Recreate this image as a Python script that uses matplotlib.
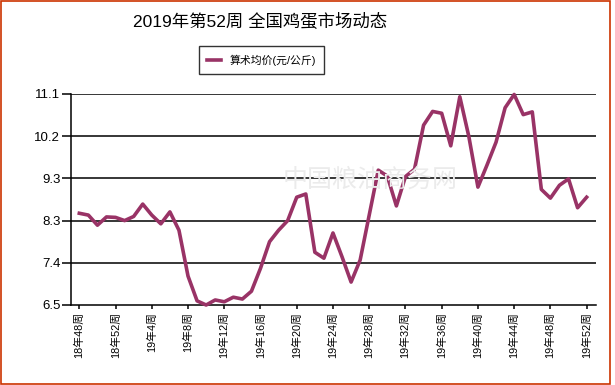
import matplotlib
matplotlib.use("Agg")
import matplotlib.pyplot as plt
import numpy as np
from matplotlib.patches import Rectangle

plt.rcParams['font.family'] = ['Liberation Sans', 'Noto Sans CJK SC', 'DejaVu Sans']

title = "2019年第52周 全国鸡蛋市场动态"
series_name = "算术均价(元/公斤)"

# weekly prices, 18W48 .. 19W52 (57 weeks)
prices = [8.50, 8.46, 8.24, 8.42, 8.41, 8.34, 8.43, 8.70, 8.46, 8.27,
          8.53, 8.13, 7.13, 6.59, 6.50, 6.61, 6.57, 6.67, 6.63, 6.80,
          7.30, 7.88, 8.13, 8.34, 8.85, 8.92, 7.65, 7.52, 8.07, 7.55,
          7.00, 7.48, 8.46, 9.44, 9.31, 8.66, 9.30, 9.46, 10.42, 10.72,
          10.68, 9.97, 11.04, 10.17, 9.07, 9.55, 10.05, 10.80, 11.09, 10.65,
          10.71, 9.02, 8.83, 9.11, 9.25, 8.62, 8.85]

xtick_labels = ["18年48周", "18年52周", "19年4周", "19年8周", "19年12周",
                "19年16周", "19年20周", "19年24周", "19年28周", "19年32周",
                "19年36周", "19年40周", "19年44周", "19年48周", "19年52周"]
ytick_labels = ["6.5", "7.4", "8.3", "9.3", "10.2", "11.1"]
y_min, y_max = 6.5, 11.1

W, H = 615, 385
fig = plt.figure(figsize=(W / 100, H / 100), dpi=100)
ax = fig.add_axes([70.7 / W, 1 - 305 / H, (595.7 - 70.7) / W, (305 - 94) / H])

x = np.arange(len(prices))
yt = np.linspace(y_min, y_max, len(ytick_labels))
for v in yt[1:]:
    ax.axhline(v, color='black', lw=1.1, zorder=1)

ax.plot(x, prices, color='#993366', lw=2.6, solid_joinstyle='round', zorder=3,
        label=series_name, clip_on=False)

ax.set_xlim(-0.95, 57.0)
ax.set_ylim(y_min, y_max)
ax.set_yticks(yt)
ax.set_yticklabels(ytick_labels, fontsize=9.5)
ax.set_xticks(x[::4])
ax.set_xticklabels(xtick_labels, rotation=90, fontsize=7.8)
ax.tick_params(axis='y', length=6.5, width=1.1, pad=1)
ax.tick_params(axis='x', length=3, width=1.1, pad=2)
for s in ['top', 'right']:
    ax.spines[s].set_visible(False)
for s in ['left', 'bottom']:
    ax.spines[s].set_linewidth(1.1)
    ax.spines[s].set_color('black')

# watermark
fig.text(370 / W, 1 - 180 / H, "中国粮油商务网", fontsize=18,
         color='#ebebeb', ha='center', va='center', zorder=0)

fig.text(260 / W, 1 - 21 / H, title, ha='center', va='center', fontsize=12.5)

leg = fig.legend(loc='center', bbox_to_anchor=(261.5 / W, 1 - 60 / H),
                 fontsize=7.8, frameon=True, fancybox=False, edgecolor='black',
                 handlelength=1.3, handletextpad=0.8, borderpad=0.75)
leg.get_frame().set_linewidth(1.0)

fig.patches.append(Rectangle((0.8 / W, 0.8 / H), (609.5 - 0.8) / W, (384 - 0.8) / H,
                             transform=fig.transFigure, fill=False,
                             edgecolor='#CC3300', lw=1.2))

fig.savefig("out.png", dpi=100)
